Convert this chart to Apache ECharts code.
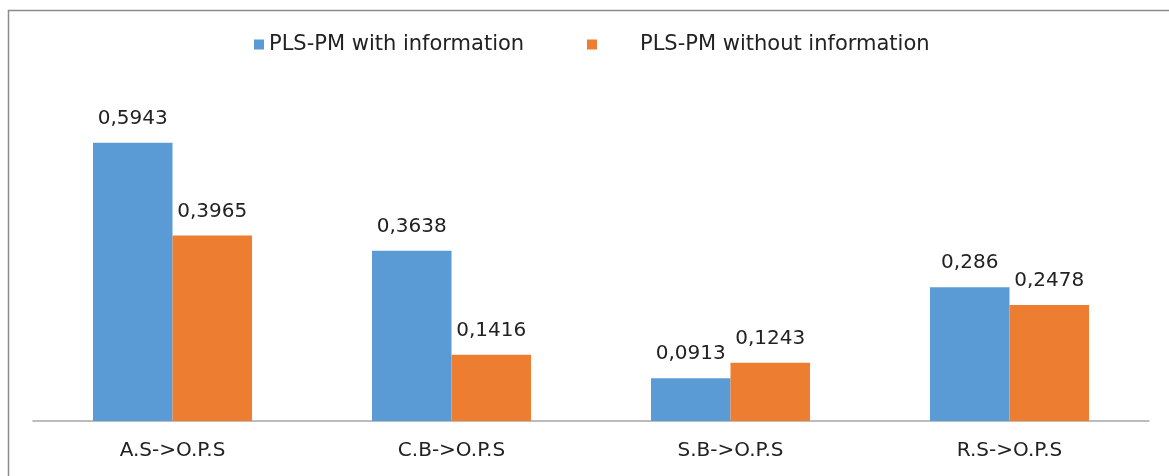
<!DOCTYPE html>
<html>
<head>
<meta charset="utf-8">
<script src="https://cdn.jsdelivr.net/npm/echarts@6/dist/echarts.min.js"></script>
<style>
  html, body { margin: 0; padding: 0; background: #fff; }
  #chart { width: 1169px; height: 476px; }
</style>
</head>
<body>
<div id="chart"></div>
<script>
// chart data
var categories = ["A.S->O.P.S", "C.B->O.P.S", "S.B->O.P.S", "R.S->O.P.S"];
var seriesNames = ["PLS-PM with information", "PLS-PM without information"];
var withInfo = [0.5943, 0.3638, 0.0913, 0.286];
var withoutInfo = [0.3965, 0.1416, 0.1243, 0.2478];

var chart = echarts.init(document.getElementById("chart"));
var font = "DejaVu Sans";

// decimal comma like the original
function fmt(p) {
  return String(p.value).replace(".", ",");
}

var option = {
  backgroundColor: "#fff",
  animation: false,
  graphic: [
    {
      type: "rect",
      left: 6,
      top: 8,
      shape: { width: 1200, height: 500 },
      style: { fill: "none", stroke: "#8c8c8c", lineWidth: 1.5 },
      silent: true,
    },
  ],
  legend: [
    {
      data: [seriesNames[0]],
      left: 254,
      top: 34,
      padding: 0,
      itemWidth: 10,
      itemHeight: 10,
      icon: "rect",
      textStyle: { fontFamily: font, fontSize: 21, color: "#222" },
    },
    {
      data: [seriesNames[1]],
      left: 587,
      top: 34,
      padding: 0,
      itemWidth: 10,
      itemHeight: 10,
      icon: "rect",
      textStyle: {
        fontFamily: font,
        fontSize: 21,
        color: "#222",
        padding: [0, 0, 0, 38],
      },
    },
  ],
  grid: {
    left: 33,
    right: 20,
    top: 93.4,
    bottom: 55,
    containLabel: false,
  },
  xAxis: {
    type: "category",
    data: categories,
    axisLine: { lineStyle: { color: "#a6a6a6", width: 1.5 } },
    axisTick: { show: false },
    axisLabel: {
      fontFamily: font,
      fontSize: 20,
      color: "#222",
      margin: 20,
    },
  },
  yAxis: {
    type: "value",
    min: 0,
    max: 0.7,
    show: false,
    splitLine: { show: false },
  },
  series: [
    {
      name: seriesNames[0],
      type: "bar",
      data: withInfo,
      barGap: "0%",
      barCategoryGap: "43%",
      itemStyle: { color: "#5b9bd5" },
      label: {
        show: true,
        position: "top",
        distance: 14,
        formatter: fmt,
        fontFamily: font,
        fontSize: 20,
        color: "#222",
      },
    },
    {
      name: seriesNames[1],
      type: "bar",
      data: withoutInfo,
      barGap: "0%",
      barCategoryGap: "43%",
      itemStyle: { color: "#ed7d31" },
      label: {
        show: true,
        position: "top",
        distance: 14,
        formatter: fmt,
        fontFamily: font,
        fontSize: 20,
        color: "#222",
      },
    },
  ],
};

chart.setOption(option);
</script>
</body>
</html>
